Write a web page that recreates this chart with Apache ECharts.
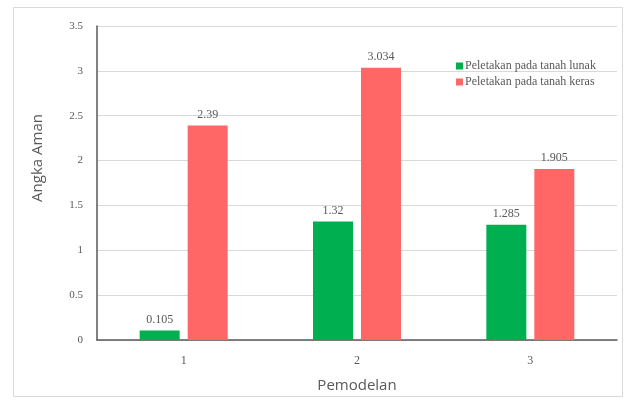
<!DOCTYPE html>
<html>
<head>
<meta charset="utf-8">
<script src="https://cdn.jsdelivr.net/npm/echarts@6/dist/echarts.min.js"></script>
<style>
  html, body { margin: 0; padding: 0; background: #ffffff; }
  #chart { width: 637px; height: 406px; }
</style>
</head>
<body>
<div id="chart"></div>
<script>
// Safety factor per model run, two placement cases
const categories = ['1', '2', '3'];
const seriesNames = ['Peletakan pada tanah lunak', 'Peletakan pada tanah keras'];
const softSoil = [0.105, 1.32, 1.285];
const hardSoil = [2.39, 3.034, 1.905];
const yTicks = { min: 0, max: 3.5, interval: 0.5 };

const serif = '"Liberation Serif", "DejaVu Serif", serif';
const sans = '"Open Sans", "Liberation Sans", sans-serif';

const chart = echarts.init(document.getElementById('chart'), null, { renderer: 'canvas' });

const labelStyle = {
  show: true,
  position: 'top',
  distance: 5,
  color: '#595959',
  fontFamily: serif,
  fontSize: 12
};

chart.setOption({
  animation: false,
  backgroundColor: '#ffffff',
  grid: { left: 97, right: 20, top: 26, bottom: 66 },
  legend: {
    orient: 'vertical',
    left: 451,
    top: 55,
    itemWidth: 7,
    itemHeight: 7,
    itemGap: 4,
    icon: 'rect',
    textStyle: { fontFamily: serif, fontSize: 12, color: '#595959', padding: [0, 0, 0, -3] },
    data: seriesNames
  },
  xAxis: {
    type: 'category',
    data: categories,
    name: 'Pemodelan',
    nameLocation: 'middle',
    nameGap: 38,
    nameTextStyle: { fontFamily: sans, fontSize: 15, color: '#595959' },
    axisLine: { show: true, lineStyle: { color: '#595959', width: 1.5 } },
    axisTick: { show: false },
    axisLabel: { margin: 15, color: '#595959', fontFamily: serif, fontSize: 12 }
  },
  yAxis: {
    type: 'value',
    min: yTicks.min,
    max: yTicks.max,
    interval: yTicks.interval,
    axisLine: { show: true, lineStyle: { color: '#595959', width: 1.5 } },
    axisTick: { show: false },
    axisLabel: { margin: 14, color: '#595959', fontFamily: serif, fontSize: 11 },
    splitLine: { lineStyle: { color: '#d9d9d9', width: 1 } }
  },
  series: [
    {
      name: seriesNames[0],
      type: 'bar',
      data: softSoil,
      barWidth: 40,
      barGap: '20%',
      itemStyle: { color: '#00b050' },
      label: labelStyle
    },
    {
      name: seriesNames[1],
      type: 'bar',
      data: hardSoil,
      barWidth: 40,
      itemStyle: { color: '#ff6666' },
      label: labelStyle
    }
  ],
  graphic: [
    {
      type: 'rect',
      shape: { x: 13.5, y: 7.5, width: 609, height: 389 },
      style: { fill: 'none', stroke: '#d9d9d9', lineWidth: 1 },
      silent: true,
      z: -1
    },
    {
      type: 'text',
      x: 38,
      y: 158,
      rotation: Math.PI / 2,
      style: {
        text: 'Angka Aman',
        fill: '#595959',
        font: '15px ' + sans,
        textAlign: 'center',
        textVerticalAlign: 'middle'
      }
    }
  ]
});
</script>
</body>
</html>
